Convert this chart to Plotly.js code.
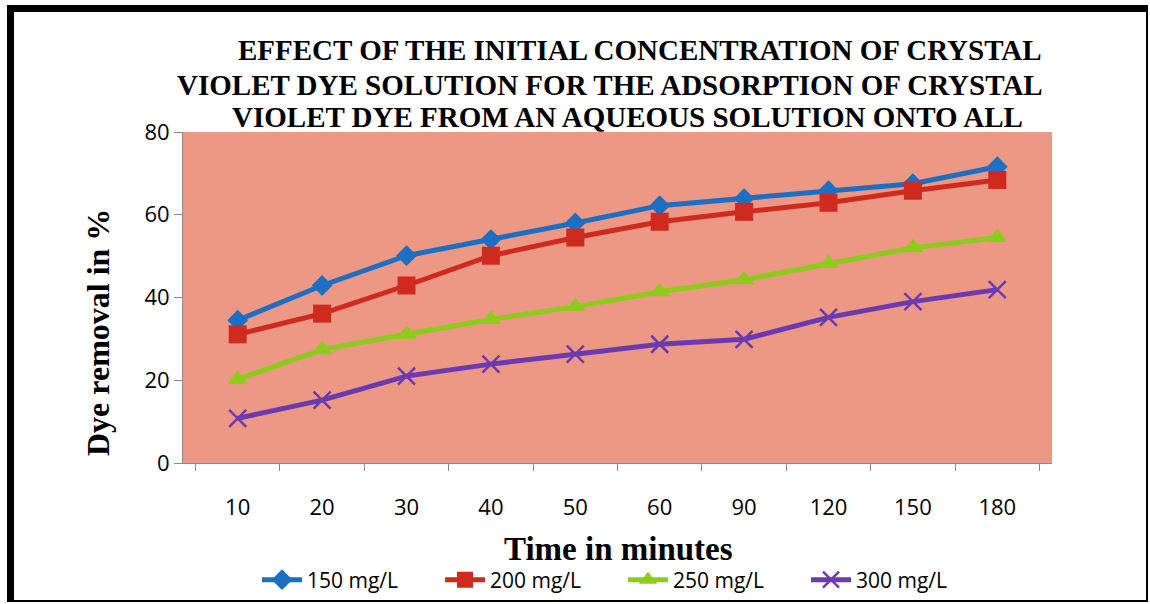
<!DOCTYPE html>
<html>
<head>
<meta charset="utf-8">
<script src="https://cdn.plot.ly/plotly-3.0.1.min.js"></script>
<style>
  html, body { margin: 0; padding: 0; background: #ffffff; }
  #wrap { position: relative; width: 1150px; height: 604px; }
  #chart { position: absolute; left: 0; top: 0; width: 1150px; height: 604px; }
  #frame { position: absolute; left: 7px; top: 5px; width: 1132px; height: 588px;
           border-left: 7px solid #000; border-top: 7px solid #000;
           border-right: 2px solid #000; border-bottom: 2px solid #000; pointer-events: none; }
</style>
</head>
<body>
<div id="wrap">
  <div id="chart"></div>
  <div id="frame"></div>
</div>
<script>
const timeLabels = ["10", "20", "30", "40", "50", "60", "90", "120", "150", "180"];
const seriesNames = ["150 mg/L", "200 mg/L", "250 mg/L", "300 mg/L"];
const conc150 = [34.5, 42.9, 50.1, 54.0, 58.0, 62.2, 63.9, 65.8, 67.5, 71.6];
const conc200 = [31.1, 36.1, 42.9, 50.1, 54.5, 58.3, 60.7, 62.9, 65.8, 68.4];
const conc250 = [20.2, 27.4, 31.1, 34.7, 37.8, 41.4, 44.3, 48.2, 52.0, 54.5];
const conc300 = [10.8, 15.2, 21.0, 23.9, 26.3, 28.7, 29.9, 35.2, 39.0, 41.9];
const yTicks = [0, 20, 40, 60, 80];
const titleLines = [
  "EFFECT OF THE INITIAL CONCENTRATION OF CRYSTAL",
  "VIOLET DYE SOLUTION FOR THE ADSORPTION OF CRYSTAL",
  "VIOLET DYE FROM AN AQUEOUS SOLUTION ONTO ALL"
];
const xTitle = "Time in minutes";
const yTitle = "Dye removal in %";

const colors = ["#1c6fc2", "#d02a1e", "#8ccc1a", "#6a3bb0"];
const symbols = ["diamond", "square", "triangle-up", "x-thin-open"];
const sizes = [16, 18, 18, 17];
const allSeries = [conc150, conc200, conc250, conc300];

const traces = allSeries.map((vals, i) => ({
  type: "scatter",
  mode: "lines+markers",
  name: seriesNames[i],
  x: timeLabels,
  y: vals,
  line: { color: colors[i], width: 5 },
  marker: {
    symbol: symbols[i], size: sizes[i], color: colors[i],
    line: { color: colors[i], width: i === 3 ? 2.5 : 0 }
  }
}));

const PL = 183, PR = 1052, PT = 132, PB = 463;
const px = v => (v - PL) / (PR - PL);
const py = v => (PB - v) / (PB - PT);

const titleCenters = [640, 610, 627];
const titleY = [50, 85, 117];
const annotations = titleLines.map((t, i) => ({
  text: t,
  xref: "paper", yref: "paper",
  x: px(titleCenters[i]), y: py(titleY[i]),
  xanchor: "center", yanchor: "middle",
  showarrow: false,
  font: { family: "Liberation Serif", size: 29, color: "#000", weight: "bold" }
}));
annotations.push({
  text: yTitle,
  xref: "paper", yref: "paper",
  x: px(98), y: py(333),
  xanchor: "center", yanchor: "middle",
  textangle: -90,
  showarrow: false,
  font: { family: "Liberation Serif", size: 32, color: "#000", weight: "bold" }
});
annotations.push({
  text: xTitle,
  xref: "paper", yref: "paper",
  x: px(618), y: py(549),
  xanchor: "center", yanchor: "middle",
  showarrow: false,
  font: { family: "Liberation Serif", size: 33, color: "#000", weight: "bold" }
});

const layout = {
  width: 1150, height: 604,
  paper_bgcolor: "#ffffff",
  plot_bgcolor: "#ec9884",
  margin: { l: PL, r: 1150 - PR, t: PT, b: 604 - PB },
  showlegend: true,
  annotations: annotations,
  xaxis: {
    type: "category",
    tickvals: timeLabels,
    ticktext: timeLabels,
    tickson: "boundaries",
    ticks: "outside", ticklen: 7, tickcolor: "#8a8a8a",
    ticklabelstandoff: 25,
    showline: true, linecolor: "#8a8a8a", linewidth: 1,
    showgrid: false, zeroline: false,
    tickfont: { family: "Open Sans", size: 22, color: "#000" }
  },
  yaxis: {
    range: [0, 80],
    tickvals: yTicks,
    ticks: "outside", ticklen: 8, tickcolor: "#8a8a8a",
    showline: true, linecolor: "#8a8a8a", linewidth: 1,
    showgrid: false, zeroline: false,
    tickfont: { family: "Open Sans", size: 22, color: "#000" }
  },
  legend: {
    orientation: "h",
    xref: "container", yref: "container",
    x: 623 / 1150, xanchor: "center",
    y: 24 / 604, yanchor: "middle",
    font: { family: "Open Sans", size: 21, color: "#000" },
    bgcolor: "rgba(0,0,0,0)",
    itemwidth: 40,
    entrywidth: 128
  }
};

Plotly.newPlot("chart", traces, layout, { staticPlot: true, displayModeBar: false });
</script>
</body>
</html>
